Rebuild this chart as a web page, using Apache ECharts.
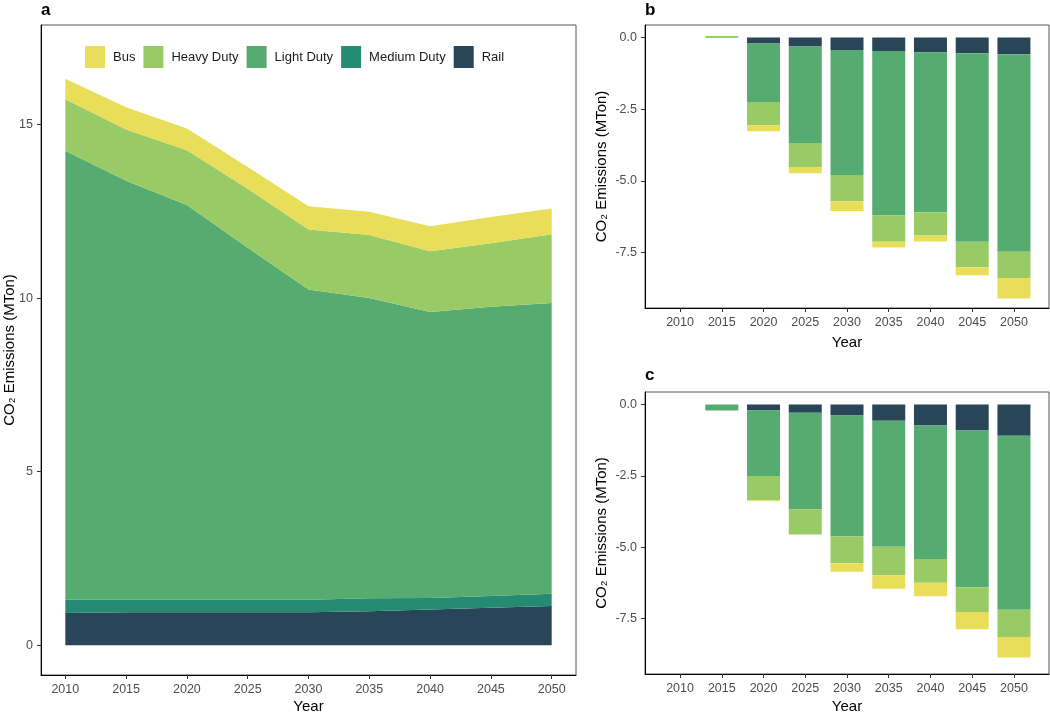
<!DOCTYPE html>
<html><head><meta charset="utf-8">
<script src="https://cdn.jsdelivr.net/npm/echarts@6/dist/echarts.min.js"></script>
<style>html,body{margin:0;padding:0;background:#fff}#c{width:1050px;height:713px}</style>
</head><body><div id="c"></div>
<script>
const years = [2010, 2015, 2020, 2025, 2030, 2035, 2040, 2045, 2050];
const seriesNames = ['Rail', 'Medium Duty', 'Light Duty', 'Heavy Duty', 'Bus'];
const legendOrder = ['Bus', 'Heavy Duty', 'Light Duty', 'Medium Duty', 'Rail'];
const yTicksA = [0, 5, 10, 15];
const yTicksBC = [0, -2.5, -5, -7.5];

// Panel a (stacked area, MTon)
const railA   = [0.93, 0.95, 0.95, 0.95, 0.95, 0.98, 1.03, 1.08, 1.13];
const mediumA = [0.38, 0.36, 0.36, 0.36, 0.36, 0.37, 0.33, 0.34, 0.35];
const lightA  = [12.94, 12.07, 11.37, 10.14, 8.94, 8.65, 8.24, 8.33, 8.38];
const heavyA  = [1.48, 1.48, 1.58, 1.70, 1.73, 1.82, 1.75, 1.83, 1.98];
const busA    = [0.59, 0.64, 0.63, 0.63, 0.67, 0.67, 0.72, 0.76, 0.74];

// Panel b (stacked bars)
const railB   = [0, 0, -0.21, -0.31, -0.43, -0.47, -0.51, -0.55, -0.58];
const mediumB = [0, 0.02, 0, 0, 0, 0, 0, 0, 0];
const lightB  = [0, 0, -2.04, -3.37, -4.37, -5.74, -5.59, -6.58, -6.90];
const heavyB  = [0, 0.04, -0.81, -0.84, -0.91, -0.92, -0.81, -0.89, -0.91];
const busB    = [0, 0, -0.21, -0.22, -0.34, -0.20, -0.21, -0.28, -0.72];

// Panel c (stacked bars)
const railC   = [0, 0, -0.21, -0.29, -0.38, -0.57, -0.73, -0.91, -1.09];
const mediumC = [0, 0, 0, 0, 0, 0, 0, 0, 0];
const lightC  = [0, -0.21, -2.29, -3.38, -4.23, -4.41, -4.68, -5.49, -6.10];
const heavyC  = [0, 0, -0.85, -0.88, -0.95, -1.00, -0.83, -0.87, -0.95];
const busC    = [0, 0, -0.04, 0, -0.30, -0.47, -0.48, -0.60, -0.72];

const colors = {
  'Rail': '#284657', 'Medium Duty': '#248A72', 'Light Duty': '#56AB70',
  'Heavy Duty': '#98CB65', 'Bus': '#E8DE59'
};
const FONT = 'Liberation Sans, Arial, sans-serif';

const areaData = [railA, mediumA, lightA, heavyA, busA];
const bData = [railB, mediumB, lightB, heavyB, busB];
const cData = [railC, mediumC, lightC, heavyC, busC];

const grids = [
  {left: 41, top: 25, width: 535, height: 650},
  {left: 645, top: 25, width: 404, height: 283},
  {left: 645, top: 392, width: 404, height: 282}
].map(g => Object.assign({show: true, borderColor: '#555', borderWidth: 1, backgroundColor: '#fff', outerBoundsMode: 'none', containLabel: false}, g));

function xAxisDef(gi, min, max, gap) {
  return {
    type: 'value', gridIndex: gi, min: min, max: max,
    name: 'Year', nameLocation: 'middle', nameGap: gap, nameMoveOverlap: false,
    nameTextStyle: {fontFamily: FONT, fontSize: 15, color: '#000'},
    axisLine: {show: true, onZero: false, lineStyle: {color: '#000', width: 1}},
    axisTick: {show: true, length: 4, lineStyle: {color: '#333'}, customValues: years},
    axisLabel: {fontFamily: FONT, fontSize: 12.5, color: '#4D4D4D', margin: 8, customValues: years, formatter: v => String(v)},
    splitLine: {show: false}
  };
}
function yAxisDef(gi, min, max, ticks, fmt, gap) {
  return {
    type: 'value', gridIndex: gi, min: min, max: max,
    name: 'CO\u2082 Emissions (MTon)', nameLocation: 'middle', nameGap: gap, nameMoveOverlap: false,
    nameTextStyle: {fontFamily: FONT, fontSize: 15, color: '#000'},
    axisLine: {show: true, onZero: false, lineStyle: {color: '#000', width: 1}},
    axisTick: {show: true, length: 4, lineStyle: {color: '#333'}, customValues: ticks},
    axisLabel: {fontFamily: FONT, fontSize: 12.5, color: '#4D4D4D', margin: 8, customValues: ticks, formatter: fmt},
    splitLine: {show: false}
  };
}

const series = [];
// data stored as [value, year] with encode so the stacked dimension is the value
seriesNames.forEach((n, i) => {
  series.push({
    name: n, type: 'line', xAxisIndex: 0, yAxisIndex: 0, stack: 'a',
    encode: {x: 1, y: 0},
    data: years.map((y, k) => [areaData[i][k], y]),
    symbol: 'none', lineStyle: {width: 0}, areaStyle: {color: colors[n], opacity: 1},
    itemStyle: {color: colors[n]}, silent: true
  });
});
[[bData, 1], [cData, 2]].forEach(([arr, gi]) => {
  seriesNames.forEach((n, i) => {
    series.push({
      name: n, type: 'bar', xAxisIndex: gi, yAxisIndex: gi, stack: 's' + gi,
      barWidth: 33,
      encode: {x: 1, y: 0},
      data: years.map((y, k) => [arr[i][k] === 0 ? null : arr[i][k], y]),
      itemStyle: {color: colors[n], borderWidth: 0},
      silent: true
    });
  });
});

const chart = echarts.init(document.getElementById('c'), null, {renderer: 'canvas'});
chart.setOption({
  animation: false,
  backgroundColor: '#fff',
  grid: grids,
  xAxis: [xAxisDef(0, 2008, 2052, 24), xAxisDef(1, 2005.8, 2054.2, 27), xAxisDef(2, 2005.8, 2054.2, 25.5)],
  yAxis: [
    yAxisDef(0, -0.86, 17.87, yTicksA, v => String(v), 24),
    yAxisDef(1, -9.44, 0.44, yTicksBC, v => v.toFixed(1), 36),
    yAxisDef(2, -9.44, 0.44, yTicksBC, v => v.toFixed(1), 36)
  ],
  legend: {
    data: legendOrder, left: 85, top: 46, orient: 'horizontal', padding: 0,
    itemWidth: 20, itemHeight: 22, itemGap: 8, icon: 'rect',
    textStyle: {fontFamily: FONT, fontSize: 13, color: '#1a1a1a', padding: [0, 0, 0, 3]},
    selectedMode: false
  },
  graphic: [
    {type: 'text', left: 41, top: 2, style: {text: 'a', font: 'bold 17px ' + FONT, fill: '#000'}},
    {type: 'text', left: 645, top: 2, style: {text: 'b', font: 'bold 17px ' + FONT, fill: '#000'}},
    {type: 'text', left: 645, top: 367, style: {text: 'c', font: 'bold 17px ' + FONT, fill: '#000'}}
  ],
  series: series
});
</script></body></html>
